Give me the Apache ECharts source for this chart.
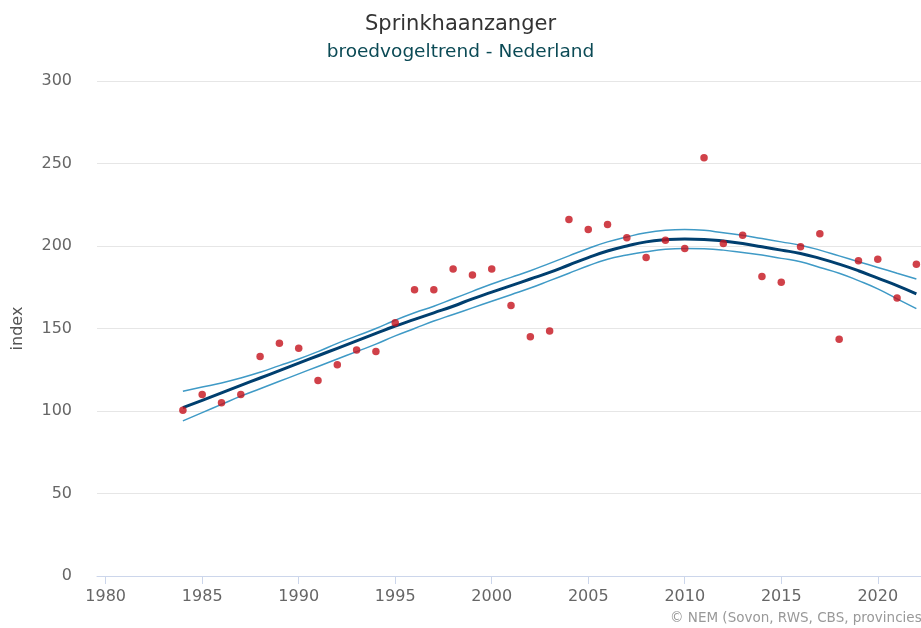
<!DOCTYPE html>
<html>
<head>
<meta charset="utf-8">
<title>Sprinkhaanzanger</title>
<script src="https://cdn.jsdelivr.net/npm/echarts@6/dist/echarts.min.js"></script>
<style>
    html, body { margin: 0; padding: 0; background: #fff; }
    #chart { width: 921px; height: 628px; }
</style>
</head>
<body>
<div id="chart"></div>
<script>
// jaren en indexwaarden
var years = [1984, 1985, 1986, 1987, 1988, 1989, 1990, 1991, 1992, 1993,
    1994, 1995, 1996, 1997, 1998, 1999, 2000, 2001, 2002, 2003,
    2004, 2005, 2006, 2007, 2008, 2009, 2010, 2011, 2012, 2013,
    2014, 2015, 2016, 2017, 2018, 2019, 2020, 2021, 2022];

var indexValues = [100.5, 110, 105, 110, 133, 141, 138, 118.5, 128, 137,
    136, 153.5, 173.5, 173.5, 186, 182.5, 186, 164, 145, 148.5,
    216, 210, 213, 205, 193, 203.5, 198.5, 253.5, 201.5, 206.5,
    181.5, 178, 199.5, 207.5, 143.5, 191, 192, 168.5, 189];

var trend = [102, 106.5, 111, 115.5, 120, 124.5, 129, 133.5, 138, 142.5,
    147, 151.5, 155.5, 159.5, 163.5, 168, 172, 176, 180, 184,
    188.5, 193, 197, 200, 202.5, 203.8, 204.3, 204, 203, 201.5,
    199.5, 197.5, 195.5, 192.5, 189, 185, 180.5, 176, 171];

var upper = [112, 114.5, 117, 120, 123.5, 127.5, 131.5, 136, 141, 145.5,
    150, 155, 159.5, 163.5, 168, 172.5, 177, 181, 185, 189.5,
    194, 198.5, 202.5, 205.5, 208, 209.5, 210, 209.5, 208, 206.5,
    204.5, 202.5, 200.5, 197.5, 194, 190.5, 187, 183.5, 180];

var lower = [94, 99, 104, 109, 113.5, 118, 122.5, 127, 131.5, 136,
    140.5, 145.5, 150, 154.5, 158.5, 162.5, 166.5, 170.5, 174.5, 179,
    183.5, 188, 192, 194.5, 196.5, 198, 198.5, 198.3, 197.5, 196,
    194.5, 192.5, 190.5, 187, 183.5, 179, 174, 168, 162];

var xTicks = [1980, 1985, 1990, 1995, 2000, 2005, 2010, 2015, 2020];

function pairs(values) {
    return years.map(function (y, i) { return [y, values[i]]; });
}

var FONT = 'DejaVu Sans';
var chart = echarts.init(document.getElementById('chart'));

chart.setOption({
    animation: false,
    title: {
        text: 'Sprinkhaanzanger',
        subtext: 'broedvogeltrend - Nederland',
        left: 'center',
        top: 9,
        itemGap: 8,
        textStyle: { fontFamily: FONT, fontSize: 21, fontWeight: 'normal', color: '#333333' },
        subtextStyle: { fontFamily: FONT, fontSize: 18.5, color: '#0b4a55' }
    },
    grid: { left: 97, right: 0, top: 81, bottom: 52, outerBoundsMode: 'none' },
    xAxis: {
        type: 'value',
        min: 1979.55,
        max: 2022.24,
        splitLine: { show: false },
        axisLine: { lineStyle: { color: '#ccd6eb', width: 1 } },
        axisTick: { customValues: xTicks, length: 8, lineStyle: { color: '#ccd6eb' } },
        axisLabel: {
            customValues: xTicks,
            margin: 13,
            fontFamily: FONT,
            fontSize: 16,
            color: '#666666',
            formatter: function (v) { return String(v); }
        }
    },
    yAxis: {
        type: 'value',
        min: 0,
        max: 300,
        interval: 50,
        name: 'index',
        nameLocation: 'middle',
        nameGap: 71,
        nameTextStyle: { fontFamily: FONT, fontSize: 16, color: '#555555' },
        axisLine: { show: false },
        axisTick: { show: false },
        splitLine: { lineStyle: { color: '#e6e6e6', width: 1 } },
        axisLabel: { margin: 25, fontFamily: FONT, fontSize: 16, color: '#666666' }
    },
    graphic: [{
        type: 'text',
        left: 670,
        top: 611,
        style: {
            text: '\u00a9 NEM (Sovon, RWS, CBS, provincies)',
            fontFamily: FONT,
            fontSize: 13.5,
            fill: '#999999'
        }
    }],
    series: [
        {
            type: 'line',
            data: pairs(upper),
            smooth: true,
            symbol: 'none',
            lineStyle: { color: '#3f9ac6', width: 1.5 },
            z: 2
        },
        {
            type: 'line',
            data: pairs(lower),
            smooth: true,
            symbol: 'none',
            lineStyle: { color: '#3f9ac6', width: 1.5 },
            z: 2
        },
        {
            type: 'line',
            data: pairs(trend),
            smooth: true,
            symbol: 'none',
            lineStyle: { color: '#003f6f', width: 3 },
            z: 3
        },
        {
            type: 'scatter',
            data: pairs(indexValues),
            symbolSize: 7.5,
            itemStyle: { color: '#c4121b' },
            z: 4
        }
    ]
});
</script>
</body>
</html>
